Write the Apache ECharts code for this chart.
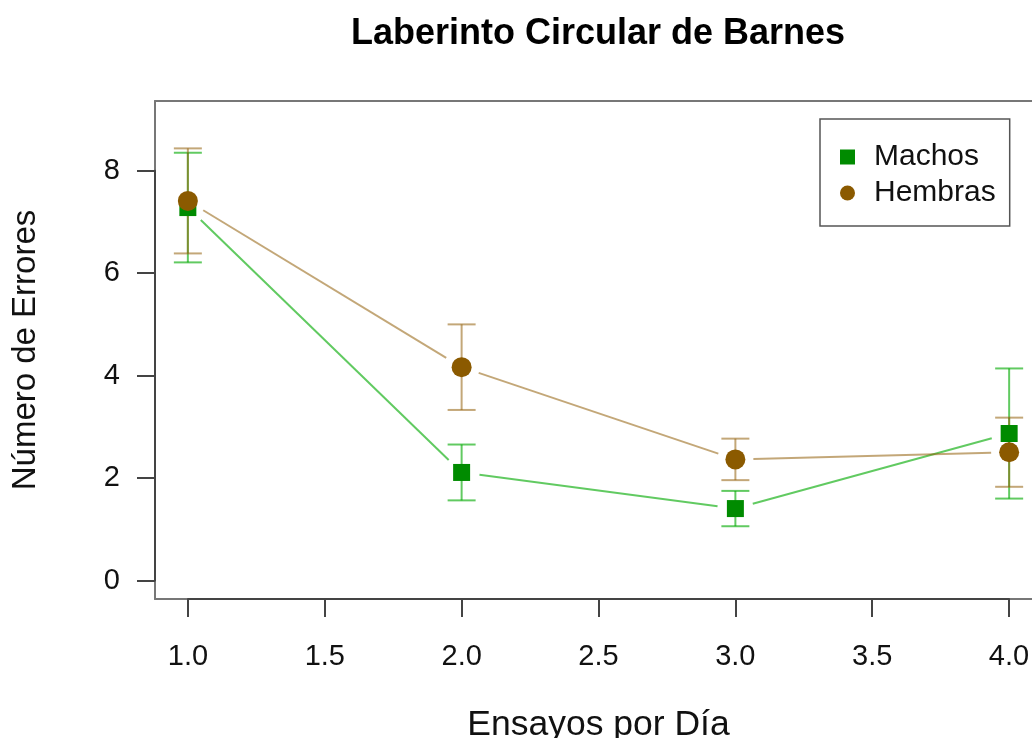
<!DOCTYPE html>
<html>
<head>
<meta charset="utf-8">
<title>Laberinto Circular de Barnes</title>
<script src="https://cdn.jsdelivr.net/npm/echarts@6/dist/echarts.min.js"></script>
<style>
  html, body { margin: 0; padding: 0; background: #fff; }
  #chart { width: 1032px; height: 738px; }
</style>
</head>
<body>
<div id="chart"></div>
<script>
// Errores medios (± error) por día en el laberinto circular de Barnes
const dias = [1, 2, 3, 4];
const machosMedia = [7.28, 2.11, 1.405, 2.87];
const machosError = [1.07, 0.545, 0.345, 1.27];
const hembrasMedia = [7.41, 4.165, 2.365, 2.505];
const hembrasError = [1.025, 0.835, 0.405, 0.675];
const xTicks = [1.0, 1.5, 2.0, 2.5, 3.0, 3.5, 4.0];
const yTicks = [0, 2, 4, 6, 8];

const FONT = '"Liberation Sans", Arial, Helvetica, sans-serif';
const VERDE = '#008B00';
const MARRON = '#8B5A00';
const VERDE_LINEA = 'rgba(0,170,0,0.62)';
const MARRON_LINEA = 'rgba(145,95,10,0.55)';
const CAJA = '#777';
const EJE = '#444';

function barras(media, err) {
  return dias.map((d, i) => [d, media[i] - err[i], media[i] + err[i]]);
}
function tramos(media) {
  const out = [];
  for (let i = 0; i < dias.length - 1; i++) {
    out.push([dias[i], media[i], dias[i + 1], media[i + 1]]);
  }
  return out;
}

// vertical error bar with horizontal caps
function renderBarra(color) {
  return function (params, api) {
    const x = api.value(0);
    const lo = api.coord([x, api.value(1)]);
    const hi = api.coord([x, api.value(2)]);
    const cap = 14;
    const st = { stroke: color, lineWidth: 2 };
    return {
      type: 'group',
      children: [
        { type: 'line', shape: { x1: lo[0], y1: lo[1], x2: hi[0], y2: hi[1] }, style: st },
        { type: 'line', shape: { x1: lo[0] - cap, y1: lo[1], x2: lo[0] + cap, y2: lo[1] }, style: st },
        { type: 'line', shape: { x1: hi[0] - cap, y1: hi[1], x2: hi[0] + cap, y2: hi[1] }, style: st }
      ]
    };
  };
}

// connecting segment that stops short of each point
function renderTramo(color) {
  return function (params, api) {
    const p1 = api.coord([api.value(0), api.value(1)]);
    const p2 = api.coord([api.value(2), api.value(3)]);
    const dx = p2[0] - p1[0], dy = p2[1] - p1[1];
    const len = Math.sqrt(dx * dx + dy * dy);
    const gap = 18;
    const ux = dx / len, uy = dy / len;
    return {
      type: 'line',
      shape: {
        x1: p1[0] + ux * gap, y1: p1[1] + uy * gap,
        x2: p2[0] - ux * gap, y2: p2[1] - uy * gap
      },
      style: { stroke: color, lineWidth: 2 }
    };
  };
}

const sinMarcas = { axisTick: { show: false }, axisLabel: { show: false }, splitLine: { show: false } };
const lineaCaja = { show: true, onZero: false, lineStyle: { color: CAJA, width: 2 } };

const chart = echarts.init(document.getElementById('chart'), null, { renderer: 'canvas' });

const option = {
  backgroundColor: '#ffffff',
  animation: false,
  textStyle: { fontFamily: FONT },
  graphic: [{
    type: 'text',
    x: 598,
    y: 16,
    style: {
      text: 'Laberinto Circular de Barnes',
      font: 'bold 36px ' + FONT,
      fill: '#000',
      align: 'center',
      verticalAlign: 'top'
    }
  }],
  legend: {
    orient: 'vertical',
    left: 820,
    top: 119,
    padding: [23, 14, 18, 20],
    itemGap: 6,
    itemWidth: 15,
    itemHeight: 15,
    borderColor: '#555',
    borderWidth: 1.5,
    borderRadius: 0,
    backgroundColor: '#fff',
    selectedMode: false,
    textStyle: { fontFamily: FONT, fontSize: 30, color: '#111', lineHeight: 30, padding: [0, 0, 0, 14] },
    data: [
      { name: 'Machos', icon: 'rect', itemStyle: { color: VERDE } },
      { name: 'Hembras', icon: 'circle', itemStyle: { color: MARRON } }
    ]
  },
  grid: [
    // plotting region (box runs past the right edge)
    { left: 155, top: 101, width: 887, height: 498, show: false, containLabel: false, outerBoundsMode: 'none' },
    // span of the tick marks
    { left: 188, top: 170.7, width: 821, height: 409.9, show: false, containLabel: false, outerBoundsMode: 'none' }
  ],
  xAxis: [
    Object.assign({
      type: 'value', gridIndex: 0, min: 0.88, max: 4.12, position: 'bottom', z: 1,
      axisLine: lineaCaja,
      name: 'Ensayos por Día', nameLocation: 'middle', nameGap: 108,
      nameTextStyle: { fontFamily: FONT, fontSize: 35.5, color: '#111' }
    }, sinMarcas),
    Object.assign({
      type: 'value', gridIndex: 0, min: 0.88, max: 4.12, position: 'top', z: 1,
      axisLine: lineaCaja
    }, sinMarcas),
    {
      type: 'value', gridIndex: 1, min: 1, max: 4, interval: 0.5, offset: 18.4, position: 'bottom', z: 2,
      axisLine: { show: true, onZero: false, lineStyle: { color: EJE, width: 2 } },
      axisTick: { show: true, inside: false, length: 18, lineStyle: { color: EJE, width: 2 } },
      axisLabel: { show: true, margin: 43, fontFamily: FONT, fontSize: 29, color: '#111', formatter: v => v.toFixed(1) },
      splitLine: { show: false }
    }
  ],
  yAxis: [
    Object.assign({
      type: 'value', gridIndex: 0, min: -0.36, max: 9.36, position: 'left', z: 1,
      axisLine: lineaCaja,
      name: 'Número de Errores', nameLocation: 'middle', nameGap: 113,
      nameTextStyle: { fontFamily: FONT, fontSize: 33, color: '#111' }
    }, sinMarcas),
    {
      type: 'value', gridIndex: 1, min: 0, max: 8, interval: 2, offset: 33, position: 'left', z: 2,
      axisLine: { show: true, onZero: false, lineStyle: { color: EJE, width: 2 } },
      axisTick: { show: true, inside: false, length: 18, lineStyle: { color: EJE, width: 2 } },
      axisLabel: { show: true, margin: 35, fontFamily: FONT, fontSize: 29, color: '#111' },
      splitLine: { show: false }
    }
  ],
  series: [
    {
      name: 'Machos', type: 'custom', xAxisIndex: 0, yAxisIndex: 0,
      renderItem: renderBarra(VERDE_LINEA), data: barras(machosMedia, machosError),
      encode: { x: 0, y: [1, 2] }, silent: true, z: 2
    },
    {
      name: 'Machos', type: 'custom', xAxisIndex: 0, yAxisIndex: 0,
      renderItem: renderTramo(VERDE_LINEA), data: tramos(machosMedia),
      encode: { x: [0, 2], y: [1, 3] }, silent: true, z: 2
    },
    {
      name: 'Hembras', type: 'custom', xAxisIndex: 0, yAxisIndex: 0,
      renderItem: renderBarra(MARRON_LINEA), data: barras(hembrasMedia, hembrasError),
      encode: { x: 0, y: [1, 2] }, silent: true, z: 2
    },
    {
      name: 'Hembras', type: 'custom', xAxisIndex: 0, yAxisIndex: 0,
      renderItem: renderTramo(MARRON_LINEA), data: tramos(hembrasMedia),
      encode: { x: [0, 2], y: [1, 3] }, silent: true, z: 2
    },
    {
      name: 'Machos', type: 'scatter', xAxisIndex: 0, yAxisIndex: 0,
      symbol: 'rect', symbolSize: 17, itemStyle: { color: VERDE, opacity: 1 },
      data: dias.map((d, i) => [d, machosMedia[i]]), z: 3
    },
    {
      name: 'Hembras', type: 'scatter', xAxisIndex: 0, yAxisIndex: 0,
      symbol: 'circle', symbolSize: 20, itemStyle: { color: MARRON, opacity: 1 },
      data: dias.map((d, i) => [d, hembrasMedia[i]]), z: 4
    }
  ]
};

chart.setOption(option);
</script>
</body>
</html>
